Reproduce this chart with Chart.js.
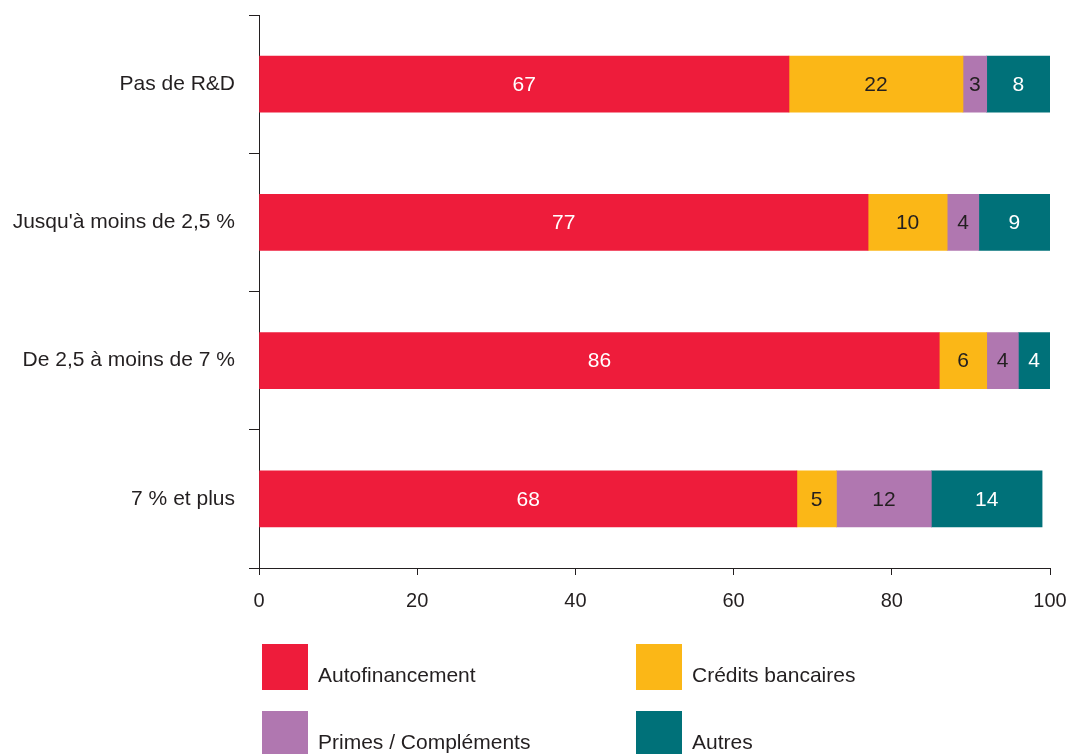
<!DOCTYPE html>
<html lang="fr">
<head>
<meta charset="utf-8">
<title>Financement selon l'intensité de R&D</title>
<script src="https://cdn.jsdelivr.net/npm/chart.js@4.4.1/dist/chart.umd.min.js"></script>
<style>
  html, body { margin: 0; padding: 0; background: #fff; }
  body { width: 1068px; height: 754px; position: relative; overflow: hidden;
         font-family: "Liberation Sans", Arial, sans-serif; color: #231f20; }
  #wrap { position: absolute; left: 0; top: 0; width: 1068px; height: 754px; }
  .leg { position: absolute; display: flex; align-items: flex-start; }
  .leg .box { width: 46px; height: 46px; }
  .leg .txt { font-size: 21px; margin-left: 10px; margin-top: 19px; line-height: 24px; white-space: nowrap; }
</style>
</head>
<body>
<div id="wrap"><canvas id="chart" width="1068" height="754"></canvas></div>
<div id="legend"></div>
<script>
const categories = ['Pas de R&D', "Jusqu'à moins de 2,5 %", 'De 2,5 à moins de 7 %', '7 % et plus'];
const seriesNames = ['Autofinancement', 'Crédits bancaires', 'Primes / Compléments', 'Autres'];
const autofinancement = [67, 77, 86, 68];
const creditsBancaires = [22, 10, 6, 5];
const primes = [3, 4, 4, 12];
const autres = [8, 9, 4, 14];
const xTicks = [0, 20, 40, 60, 80, 100];

const colors = ['#ee1c3b', '#fbb717', '#b077b0', '#007179'];
const labelColors = ['#ffffff', '#231f20', '#231f20', '#ffffff'];
const ink = '#231f20';
const fontFamily = '"Liberation Sans", Arial, sans-serif';

const values = [autofinancement, creditsBancaires, primes, autres];

// value labels centred in each segment
const segmentLabels = {
  id: 'segmentLabels',
  afterDatasetsDraw(chart) {
    const ctx = chart.ctx;
    ctx.save();
    ctx.font = '21px ' + fontFamily;
    ctx.textAlign = 'center';
    ctx.textBaseline = 'middle';
    chart.data.datasets.forEach((ds, i) => {
      chart.getDatasetMeta(i).data.forEach((bar, j) => {
        const p = bar.getProps(['x', 'base', 'y'], true);
        ctx.fillStyle = labelColors[i];
        ctx.fillText(String(ds.data[j]), (p.x + p.base) / 2, p.y + 1);
      });
    });
    ctx.restore();
  }
};

new Chart(document.getElementById('chart'), {
  type: 'bar',
  data: {
    labels: categories,
    datasets: seriesNames.map((name, i) => ({
      label: name,
      data: values[i],
      backgroundColor: colors[i],
      borderWidth: 0,
      barThickness: 56
    }))
  },
  options: {
    indexAxis: 'y',
    responsive: false,
    animation: false,
    layout: { padding: { top: 15, right: 18, bottom: 141, left: 0 } },
    plugins: { legend: { display: false }, tooltip: { enabled: false } },
    scales: {
      x: {
        stacked: true,
        min: 0,
        max: 100,
        afterBuildTicks(scale) { scale.ticks = xTicks.map(v => ({ value: v })); },
        afterFit(scale) { scale.height = 45; scale.paddingLeft = 0; scale.paddingRight = 0; },
        border: { color: ink, width: 1 },
        grid: { drawOnChartArea: false, color: ink, tickLength: 7 },
        ticks: { color: ink, padding: 14, font: { family: fontFamily, size: 20 } }
      },
      y: {
        stacked: true,
        afterFit(scale) { scale.width = 259; scale.paddingTop = 0; scale.paddingBottom = 0; },
        border: { color: ink, width: 1 },
        grid: { drawOnChartArea: false, color: ink, tickLength: 10, offset: true },
        ticks: { color: ink, padding: 14, font: { family: fontFamily, size: 21 } }
      }
    }
  },
  plugins: [segmentLabels]
});

// legend in two columns under the plot
const legendPos = [[262, 644], [636, 644], [262, 711], [636, 711]];
const legend = document.getElementById('legend');
seriesNames.forEach((name, i) => {
  const item = document.createElement('div');
  item.className = 'leg';
  item.style.left = legendPos[i][0] + 'px';
  item.style.top = legendPos[i][1] + 'px';
  item.innerHTML = '<div class="box" style="background:' + colors[i] + '"></div><div class="txt"></div>';
  item.querySelector('.txt').textContent = name;
  legend.appendChild(item);
});
</script>
</body>
</html>
